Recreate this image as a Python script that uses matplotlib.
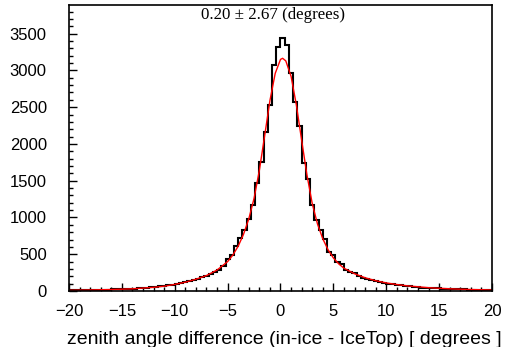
import numpy as np
import matplotlib
matplotlib.use("Agg")
import matplotlib.pyplot as plt
from matplotlib.ticker import MultipleLocator

# Histogram: 100 bins from -20 to 20 degrees
x_lo, x_hi, n_bins = -20, 20, 100
counts = [
    # -20 .. -10
    9, 8, 11, 10, 12, 13, 14, 15, 18, 17, 21, 22, 26, 27, 30, 34, 37, 41, 46, 52,
    56, 63, 70, 78, 88,
    # -10 .. 0
    98, 108, 120, 135, 150, 165, 185, 200, 228, 262, 290, 345, 430, 490, 610,
    720, 828, 977, 1167, 1465, 1755, 2160, 2525, 3075, 3315,
    # 0 .. 10
    3440, 3340, 2960, 2565, 2240, 1735, 1530, 1167, 963, 828, 705, 533, 488, 398,
    366, 290, 262, 245, 205, 180, 165, 145, 133, 118, 108,
    # 10 .. 20
    100, 92, 84, 76, 70, 63, 57, 52, 47, 43, 40, 37, 40, 32, 30, 27, 25, 23, 21,
    20, 18, 17, 15, 14, 13,
]

# Fit curve
fit_x = [-20, -18, -16, -14, -12, -11, -10, -9, -8, -7, -6, -5, -4.5, -4, -3.5,
         -3, -2.5, -2, -1.5, -1, -0.5, 0, 0.2, 0.5, 1, 1.5, 2, 2.5, 3, 3.5, 4,
         4.5, 5, 5.5, 6, 7, 8, 9, 10, 11, 12, 14, 16, 18, 20]
fit_y = [10, 14, 20, 30, 50, 65, 90, 120, 160, 210, 285, 400, 490, 610, 770,
         980, 1260, 1640, 2110, 2590, 2960, 3150, 3165, 3130, 2920, 2530, 2050,
         1580, 1190, 910, 710, 560, 450, 370, 310, 235, 180, 140, 110, 88, 70,
         45, 30, 20, 14]

title = "0.20 \u00b1 2.67 (degrees)"
xlabel = "zenith angle difference (in-ice - IceTop) [ degrees ]"

edges = np.linspace(x_lo, x_hi, n_bins + 1)

fig = plt.figure(figsize=(5.06, 3.47), dpi=100)
ax = fig.add_axes([69 / 506, 1 - 291 / 347, (492 - 69) / 506, (291 - 5) / 347])

ax.stairs(counts, edges, color="black", lw=1.5)
ax.plot(fit_x, fit_y, color="red", lw=1.0)

ax.set_xlim(x_lo, x_hi)
ax.set_ylim(0, 3890)

# ROOT style ticks
ax.xaxis.set_major_locator(MultipleLocator(5))
ax.xaxis.set_minor_locator(MultipleLocator(1))
ax.yaxis.set_major_locator(MultipleLocator(500))
ax.yaxis.set_minor_locator(MultipleLocator(100))
ax.tick_params(which="both", direction="in", top=False, right=False,
               labelsize=12, width=1)
ax.tick_params(axis="x", pad=9)
ax.tick_params(axis="y", pad=16)
ax.tick_params(which="major", length=6)
ax.tick_params(which="minor", length=3)
for lab in ax.get_xticklabels() + ax.get_yticklabels():
    lab.set_family("Liberation Sans")
for s in ax.spines.values():
    s.set_linewidth(1.2)

fig.text(502 / 506, 1 - 339 / 347, xlabel, family="Liberation Sans",
         fontsize=14, ha="right", va="center")
fig.text(273 / 506, 1 - 15 / 347, title, family="Liberation Serif",
         fontsize=12.2, ha="center", va="center")

fig.savefig("out.png", dpi=100)
